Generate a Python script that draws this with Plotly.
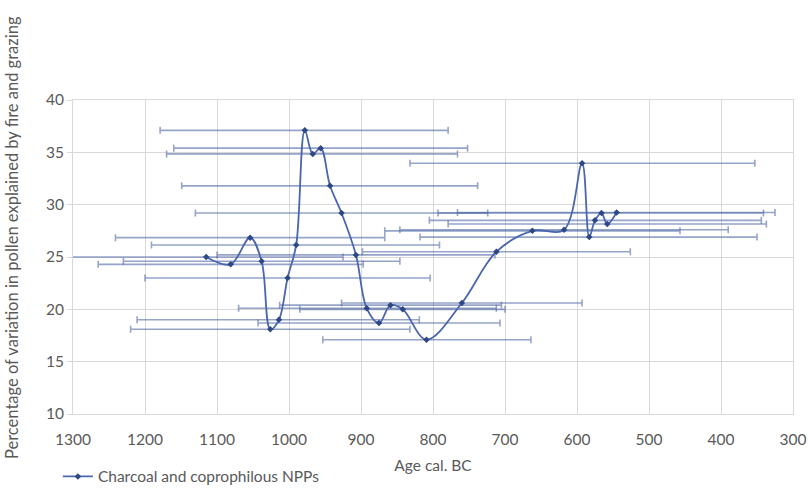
import plotly.graph_objects as go

# Age (cal. BC) of each sample, in stratigraphic order
age_bc = [1115, 1081, 1054, 1038, 1026, 1014, 1002, 990, 978, 967, 956, 943,
          927, 907, 892, 875, 859, 842, 809, 760, 712, 662, 618, 593, 583,
          575, 566, 558, 545]

# Percentage of pollen variation explained by fire and grazing
pct_explained = [25.0, 24.3, 26.85, 24.6, 18.1, 19.0, 23.0, 26.15, 37.1, 34.85,
                 35.4, 31.8, 29.2, 25.2, 20.1, 18.7, 20.4, 20.0, 17.1, 20.6,
                 25.5, 27.5, 27.6, 33.95, 26.9, 28.5, 29.2, 28.15, 29.25]

# Age uncertainty toward older ages (+) and younger ages (-), in years
age_err_older = [190, 184, 187, 192, 194, 197, 198, 201, 201, 203, 204, 206,
                 203, 193, 178, 168, 154, 143, 144, 167, 186, 205, 228, 239,
                 235, 230, 227, 221, 221]
age_err_younger = [190, 184, 187, 192, 194, 195, 198, 199, 199, 201, 204, 205,
                   203, 193, 180, 168, 154, 142, 145, 167, 186, 205, 228, 240,
                   233, 231, 225, 221, 220]

x_ticks = [1300, 1200, 1100, 1000, 900, 800, 700, 600, 500, 400, 300]
y_ticks = [10, 15, 20, 25, 30, 35, 40]

series_name = "Charcoal and coprophilous NPPs"
x_title = "Age cal. BC"
y_title = "Percentage of variation in pollen explained by fire and grazing"

font_family = "Lato, 'Open Sans', 'Liberation Sans', sans-serif"
text_grey = "#595959"
grid_grey = "#D9D9D9"
label_size = 15.5

fig = go.Figure()
fig.add_trace(go.Scatter(
    x=age_bc,
    y=pct_explained,
    name=series_name,
    mode="lines+markers",
    line=dict(color="#4A67AD", width=1.8, shape="spline", smoothing=1.0),
    marker=dict(symbol="diamond", size=5, color="#2E4785"),
    error_x=dict(
        type="data",
        symmetric=False,
        array=age_err_older,
        arrayminus=age_err_younger,
        color="rgba(72, 98, 160, 0.58)",
        thickness=1.6,
        width=3.5,
    ),
))

fig.update_layout(
    width=809,
    height=490,
    margin=dict(l=73, r=16, t=100, b=76, autoexpand=False),
    paper_bgcolor="white",
    plot_bgcolor="white",
    font=dict(family=font_family, size=label_size, color=text_grey),
    showlegend=True,
    legend=dict(
        x=-0.021, y=-0.2, xanchor="left", yanchor="middle",
        font=dict(size=label_size, color=text_grey),
        bgcolor="rgba(0,0,0,0)",
        itemwidth=30,
    ),
    xaxis=dict(
        range=[1300, 300],
        tickmode="array",
        tickvals=x_ticks,
        ticktext=[str(v) for v in x_ticks],
        showgrid=True, gridcolor=grid_grey, gridwidth=1,
        zeroline=False,
        showline=True, linecolor=grid_grey, mirror=True,
        ticks="", ticklen=0,
        ticklabelstandoff=11,
        tickfont=dict(size=label_size, color=text_grey),
        title=dict(text=x_title, font=dict(size=label_size, color=text_grey), standoff=13),
    ),
    yaxis=dict(
        range=[10, 40],
        tickmode="array",
        tickvals=y_ticks,
        ticktext=[str(v) for v in y_ticks],
        showgrid=True, gridcolor=grid_grey, gridwidth=1,
        zeroline=False,
        showline=True, linecolor=grid_grey, mirror=True,
        ticks="outside", ticklen=5, tickcolor=grid_grey,
        tickfont=dict(size=label_size, color=text_grey),
    ),
    annotations=[dict(
        text=y_title,
        xref="paper", yref="paper",
        x=(12 - 73) / 720, y=(414 - 238) / 314,
        xanchor="center", yanchor="middle",
        textangle=-90,
        showarrow=False,
        font=dict(size=16.5, color=text_grey),
    )],
)

fig.write_html("out.html")
